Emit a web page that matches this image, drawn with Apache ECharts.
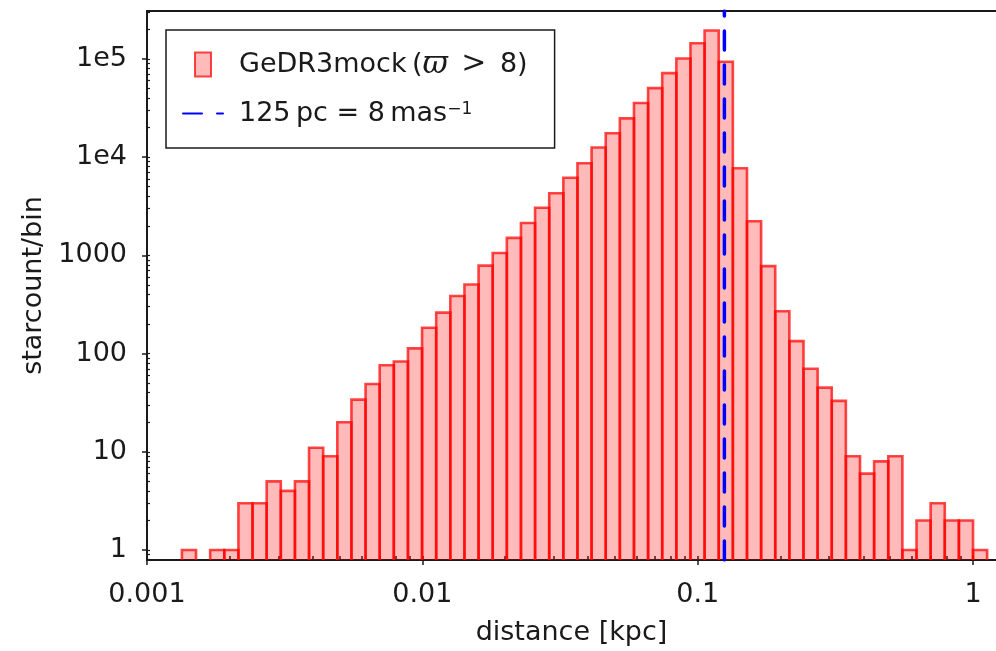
<!DOCTYPE html>
<html>
<head>
<meta charset="utf-8">
<script src="https://cdn.jsdelivr.net/npm/echarts@6/dist/echarts.min.js"></script>
<style>
  html, body { margin: 0; padding: 0; background: #fff; }
  #chart { width: 996px; height: 651px; }
</style>
</head>
<body>
<div id="chart"></div>
<script>
// Distance histogram of the GeDR3 mock sample with parallax > 8 mas,
// counted in logarithmically spaced distance bins.
const binLow = 0.001339;   // kpc, left edge of the first bin
const binHigh = 1.125;     // kpc, right edge of the last bin
const starCounts = [
  1, 0, 1, 1, 3, 3, 5, 4, 5, 11,
  9, 20, 34, 49, 76, 83, 113, 183, 261, 385,
  505, 785, 1055, 1505, 2137, 3050, 4290, 6160, 8670, 12500,
  17500, 24800, 35500, 50400, 71500, 100700, 144000, 194500, 93300, 7700,
  2220, 777, 270, 134, 70, 45, 33, 9, 6, 8,
  9, 1, 2, 3, 2, 2, 1
];
const cutDistance = 0.125; // kpc, i.e. 1 / (8 mas)

const xTickValues = [0.001, 0.01, 0.1, 1];
const xTickLabels = ['0.001', '0.01', '0.1', '1'];
const yTickValues = [1, 10, 100, 1000, 1e4, 1e5];
const yTickLabels = ['1', '10', '100', '1000', '1e4', '1e5'];

const xMin = 0.001, xMax = 1.2115;
const yMin = 0.792, yMax = 3.07e5;

const FONT = 'DejaVu Sans';
const INK = '#1a1a1a';
const FS = 27;

// log-spaced bin edges
const nBins = starCounts.length;
const binRows = [];
for (let i = 0; i < nBins; i++) {
  if (starCounts[i] <= 0) continue;
  const lo = binLow * Math.pow(binHigh / binLow, i / nBins);
  const hi = binLow * Math.pow(binHigh / binLow, (i + 1) / nBins);
  binRows.push([lo, hi, starCounts[i]]);
}

// minor tick positions: 1..9 within each decade
function minorTicks(lo, hi) {
  const out = [];
  for (let e = Math.floor(Math.log10(lo)); e <= Math.ceil(Math.log10(hi)); e++) {
    for (let k = 1; k <= 9; k++) {
      const v = k * Math.pow(10, e);
      if (v >= lo && v <= hi) out.push(v);
    }
  }
  return out;
}
function labelFor(values, labels) {
  return function (v) {
    for (let i = 0; i < values.length; i++) {
      if (Math.abs(Math.log10(v) - Math.log10(values[i])) < 1e-6) return labels[i];
    }
    return '';
  };
}

const BAR_FILL = 'rgba(255,0,0,0.27)';
const BAR_EDGE = 'rgba(255,0,0,0.72)';

const chart = echarts.init(document.getElementById('chart'), null, { renderer: 'canvas' });

chart.setOption({
  animation: false,
  backgroundColor: '#fff',
  grid: { left: 147, top: 11, width: 851, height: 551 },
  legend: {
    orient: 'vertical',
    left: 166,
    top: 30,
    padding: [19, 27, 21, 16],
    itemWidth: 40,
    itemHeight: 24,
    itemGap: 20,
    borderColor: INK,
    borderWidth: 1.5,
    borderRadius: 0,
    backgroundColor: '#fff',
    selectedMode: false,
    textStyle: {
      fontFamily: FONT,
      fontSize: FS,
      color: INK,
      lineHeight: 24,
      padding: [0, 0, 0, 11],
      rich: {
        r: { fontFamily: FONT, fontSize: FS, color: INK, lineHeight: 24 },
        m: { fontFamily: 'DejaVu Serif', fontStyle: 'italic', fontSize: FS + 4, color: INK, lineHeight: 24 },
        g: { fontFamily: 'DejaVu Serif', fontSize: FS + 3, color: INK, lineHeight: 24 },
        s: { fontFamily: FONT, fontSize: 17, color: INK, verticalAlign: 'top', lineHeight: 10 }
      }
    },
    formatter: function (name) {
      if (name === 'GeDR3mock') return '{r|GeDR3mock\u2009(}{m|\u03D6}{r|\u2002}{g|>}{r|\u20028)}';
      return '{r|125\u2009pc = 8\u2009mas}{s|\u22121}';
    },
    data: [
      {
        name: 'GeDR3mock',
        icon: 'path://M0,0H16V24H0Z',
        itemStyle: { color: BAR_FILL, borderColor: BAR_EDGE, borderWidth: 2 }
      },
      { name: '125pc', itemStyle: { opacity: 0 } }
    ]
  },
  xAxis: [
    {
      type: 'log', logBase: 10, min: xMin, max: xMax, position: 'bottom',
      axisLine: { show: true, lineStyle: { color: INK, width: 2 } },
      axisTick: { show: true, inside: false, length: 5, customValues: xTickValues, lineStyle: { color: INK, width: 1.5 } },
      axisLabel: {
        show: true, customValues: xTickValues, formatter: labelFor(xTickValues, xTickLabels),
        fontFamily: FONT, fontSize: FS, color: INK, margin: 21
      },
      splitLine: { show: false }, minorTick: { show: false },
      name: 'distance [kpc]', nameLocation: 'middle', nameGap: 59,
      nameTextStyle: { fontFamily: FONT, fontSize: FS, color: INK }
    },
    {
      type: 'log', logBase: 10, min: xMin, max: xMax, position: 'bottom',
      axisLine: { show: false },
      axisTick: { show: true, inside: true, length: 4, customValues: minorTicks(xMin, xMax), lineStyle: { color: INK, width: 1.5 } },
      axisLabel: { show: false }, splitLine: { show: false }
    },
    {
      type: 'log', logBase: 10, min: xMin, max: xMax, position: 'top',
      axisLine: { show: true, lineStyle: { color: INK, width: 2 } },
      axisTick: { show: false }, axisLabel: { show: false }, splitLine: { show: false }
    }
  ],
  yAxis: [
    {
      type: 'log', logBase: 10, min: yMin, max: yMax, position: 'left',
      axisLine: { show: true, lineStyle: { color: INK, width: 2 } },
      axisTick: { show: true, inside: false, length: 5, customValues: yTickValues, lineStyle: { color: INK, width: 1.5 } },
      axisLabel: {
        show: true, customValues: yTickValues, formatter: labelFor(yTickValues, yTickLabels),
        fontFamily: FONT, fontSize: FS, color: INK, margin: 20
      },
      splitLine: { show: false }, minorTick: { show: false },
      name: 'starcount/bin', nameLocation: 'middle', nameGap: 94,
      nameTextStyle: { fontFamily: FONT, fontSize: FS, color: INK }
    },
    {
      type: 'log', logBase: 10, min: yMin, max: yMax, position: 'left',
      axisLine: { show: false },
      axisTick: { show: true, inside: true, length: 3, customValues: minorTicks(yMin, yMax), lineStyle: { color: INK, width: 1.2 } },
      axisLabel: { show: false }, splitLine: { show: false }
    }
  ],
  series: [
    {
      name: 'GeDR3mock',
      type: 'custom',
      xAxisIndex: 0,
      yAxisIndex: 0,
      clip: true,
      encode: { x: [0, 1], y: 2 },
      itemStyle: { color: BAR_FILL, borderColor: BAR_EDGE, borderWidth: 2.5 },
      data: binRows,
      z: 2,
      renderItem: function (params, api) {
        const lo = api.value(0), hi = api.value(1), c = api.value(2);
        const pBase = api.coord([lo, yMin]);
        const pTop = api.coord([hi, c]);
        const bottom = pBase[1] + 4;
        return {
          type: 'rect',
          shape: { x: pBase[0], y: pTop[1], width: pTop[0] - pBase[0], height: bottom - pTop[1] },
          style: { fill: BAR_FILL, stroke: BAR_EDGE, lineWidth: 2.6 }
        };
      }
    },
    {
      name: '125pc',
      type: 'line',
      xAxisIndex: 0,
      yAxisIndex: 0,
      symbol: 'none',
      z: 5,
      lineStyle: { color: '#0000ff', width: 3.5, type: [19, 15], cap: 'round' },
      itemStyle: { color: '#0000ff' },
      data: [[cutDistance, yMin], [cutDistance, yMax]]
    }
  ]
});
</script>
</body>
</html>
